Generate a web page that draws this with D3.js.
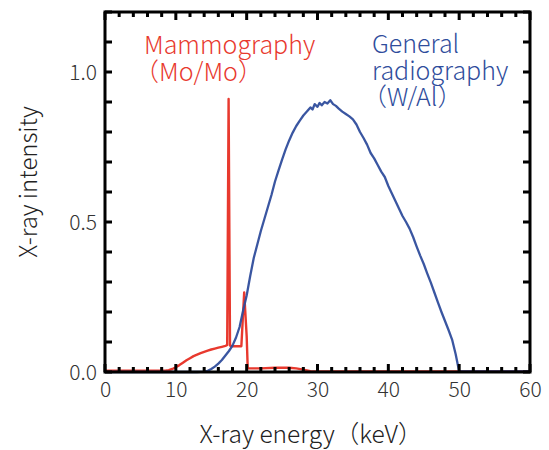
<!DOCTYPE html>
<html>
<head>
<meta charset="utf-8">
<script src="https://cdn.jsdelivr.net/npm/d3@7"></script>
<style>
  html, body { margin: 0; padding: 0; background: #ffffff; }
  svg { display: block; font-family: "Noto Sans CJK JP", "Noto Sans", sans-serif; }
</style>
</head>
<body>
<svg id="chart" width="549" height="450"></svg>
<script>
// ---- Data ----
const xTickValues = [0, 10, 20, 30, 40, 50, 60];
const yTickValues = [0.0, 0.5, 1.0];
const yTickLabels = ["0.0", "0.5", "1.0"];

// General radiography (W/Al)
const wEnergy = [0, 13, 14, 14.5, 15, 15.5, 16, 16.5, 17, 17.5, 18, 18.5, 19, 19.5, 20, 20.5, 21, 21.5, 22, 22.5,
  23, 23.5, 24, 24.5, 25, 25.5, 26, 26.5, 27, 27.5, 28, 28.5, 29, 29.3, 29.6, 30, 30.3, 30.6, 31, 31.4, 31.8, 32.2,
  32.6, 33, 33.5, 34, 34.5, 35, 35.5, 36, 36.5, 37, 37.5, 38, 38.5, 39, 39.5, 40, 40.5, 41, 41.5, 42,
  42.5, 43, 43.5, 44, 44.5, 45, 45.5, 46, 46.5, 47, 47.5, 48, 48.5, 49, 49.5, 50, 55, 60];
const wIntensity = [0, 0, 0.001, 0.004, 0.010, 0.018, 0.028, 0.040, 0.055, 0.070, 0.088, 0.115, 0.150, 0.205, 0.255, 0.320, 0.380, 0.425, 0.470, 0.510,
  0.550, 0.590, 0.635, 0.672, 0.708, 0.742, 0.772, 0.798, 0.820, 0.838, 0.855, 0.868, 0.882, 0.875, 0.893, 0.884, 0.897, 0.889, 0.900, 0.895, 0.906, 0.893,
  0.887, 0.878, 0.868, 0.860, 0.852, 0.842, 0.825, 0.800, 0.780, 0.758, 0.730, 0.712, 0.690, 0.668, 0.650, 0.620, 0.595, 0.570, 0.545, 0.520,
  0.500, 0.478, 0.450, 0.418, 0.388, 0.360, 0.328, 0.298, 0.265, 0.232, 0.200, 0.170, 0.140, 0.108, 0.060, 0.002, 0.002, 0.002];

// Mammography (Mo/Mo)
const moEnergy = [0, 8.5, 9, 9.5, 10, 10.5, 11, 11.5, 12, 12.5, 13, 13.5, 14, 14.5, 15, 15.5, 16, 16.5, 17, 17.25, 17.45, 17.65, 17.9,
  18.5, 19.25, 19.65, 20.0, 20.15, 22, 24, 26, 27, 28, 29, 30, 60];
const moIntensity = [0.004, 0.004, 0.006, 0.010, 0.016, 0.023, 0.031, 0.039, 0.046, 0.053, 0.058, 0.063, 0.067, 0.071, 0.075, 0.078, 0.081, 0.084, 0.087, 0.090, 0.910, 0.088, 0.086,
  0.086, 0.086, 0.265, 0.120, 0.012, 0.012, 0.014, 0.014, 0.012, 0.008, 0.003, 0.002, 0.002];

const moLabel = ["Mammography", "（Mo/Mo）"];
const wLabel = ["General", "radiography", "（W/Al）"];

// ---- Layout ----
const svg = d3.select("#chart");
const pLeft = 105, pRight = 530, pTop = 12, pBottom = 372;
const x = d3.scaleLinear().domain([0, 60]).range([pLeft, pRight]);
const y = d3.scaleLinear().domain([0, 1.2]).range([pBottom, pTop]);

const redColor = "#e8392e";
const blueColor = "#2f4d9c";
const fontFam = "'Noto Sans CJK JP', 'Noto Sans', sans-serif";

// lines
const line = d3.line().x(d => x(d[0])).y(d => y(d[1]));
svg.append("path").datum(moEnergy.map((e, i) => [e, moIntensity[i]]))
  .attr("d", line).attr("fill", "none").attr("stroke", redColor).attr("stroke-width", 2.4)
  .attr("stroke-linejoin", "round");
svg.append("path").datum(wEnergy.map((e, i) => [e, wIntensity[i]]))
  .attr("d", line).attr("fill", "none").attr("stroke", blueColor).attr("stroke-width", 2.3)
  .attr("stroke-linejoin", "round").attr("stroke-opacity", 0.95);

// frame
svg.append("rect").attr("x", pLeft).attr("y", pTop).attr("width", pRight - pLeft).attr("height", pBottom - pTop)
  .attr("fill", "none").attr("stroke", "#000").attr("stroke-width", 3);

// ticks (inward), drawn from the scales as small filled rects
const xMinor = d3.range(0, 61, 2);
const yMinor = d3.range(0, 13).map(i => i / 10);
const tickG = svg.append("g").attr("fill", "#000");
const tw = 3;
xMinor.forEach(v => {
  const len = v % 10 === 0 ? 8 : 5;
  tickG.append("rect").attr("x", x(v) - tw / 2).attr("y", pBottom - len).attr("width", tw).attr("height", len);
  tickG.append("rect").attr("x", x(v) - tw / 2).attr("y", pTop).attr("width", tw).attr("height", len);
});
yMinor.forEach(v => {
  const len = 7;
  tickG.append("rect").attr("x", pLeft).attr("y", y(v) - tw / 2).attr("width", len).attr("height", tw);
  tickG.append("rect").attr("x", pRight - len).attr("y", y(v) - tw / 2).attr("width", len).attr("height", tw);
});

// tick labels
const xAxisLabels = svg.append("g").attr("transform", `translate(0,${pBottom})`)
  .call(d3.axisBottom(x).tickValues(xTickValues).tickSize(0).tickPadding(0).tickFormat(d3.format("d")));
xAxisLabels.select(".domain").remove();
xAxisLabels.selectAll("text").attr("font-size", 21).attr("fill", "#333").attr("font-weight", 300)
  .attr("font-family", fontFam).attr("dy", null).attr("y", 25);

const yAxisLabels = svg.append("g").attr("transform", `translate(${pLeft},0)`)
  .call(d3.axisLeft(y).tickValues(yTickValues).tickSize(0).tickPadding(8).tickFormat((d, i) => yTickLabels[i]));
yAxisLabels.select(".domain").remove();
yAxisLabels.selectAll("text").attr("font-size", 21).attr("fill", "#333").attr("font-weight", 300)
  .attr("font-family", fontFam).attr("dy", "0.38em");

// axis titles
svg.append("text").attr("x", 311).attr("y", 443).attr("text-anchor", "middle").attr("font-weight", 300)
  .attr("font-size", 24.5).attr("fill", "#222").text("X-ray energy（keV）");
svg.append("text").attr("transform", "translate(37,182) rotate(-90)").attr("text-anchor", "middle")
  .attr("font-weight", 300).attr("font-size", 24).attr("fill", "#222").text("X-ray intensity");

// annotations (multi-line as tspans)
const moText = svg.append("text").attr("font-size", 25).attr("fill", redColor).attr("font-weight", 300);
moText.selectAll("tspan").data(moLabel).join("tspan")
  .attr("x", (d, i) => i === 0 ? 144 : 134).attr("y", (d, i) => 54 + i * 27).text(d => d);
const wText = svg.append("text").attr("font-size", 25).attr("fill", blueColor).attr("font-weight", 300);
wText.selectAll("tspan").data(wLabel).join("tspan")
  .attr("x", (d, i) => i === 2 ? 362 : 372).attr("y", (d, i) => 53 + i * 26.5).text(d => d);
</script>
</body>
</html>
